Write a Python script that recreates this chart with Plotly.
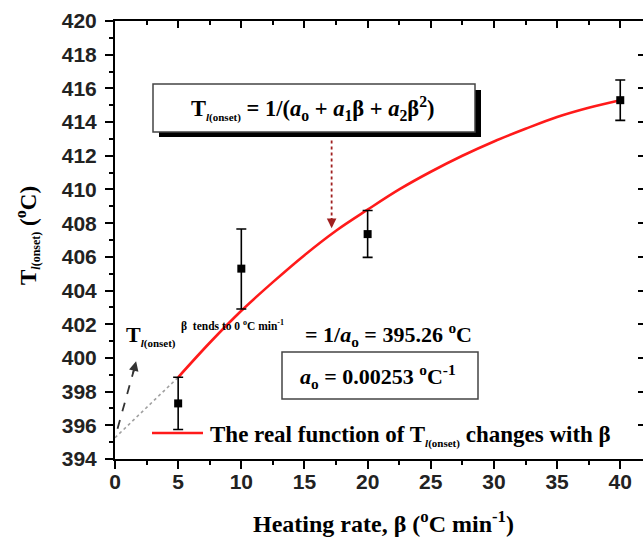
import plotly.graph_objects as go

# ---- data ----
rate = [5, 10, 20, 40]
t_onset = [397.3, 405.3, 407.35, 415.3]
err_plus = [1.55, 2.35, 1.4, 1.2]
err_minus = [1.55, 2.4, 1.38, 1.2]

curve_rate = [5, 7.5, 10, 12.5, 15, 17.5, 20, 22.5, 25, 27.5, 30, 32.5, 35, 37.5, 40]
curve_t = [398.85, 400.9, 402.8, 404.5, 406.1, 407.55, 408.8, 410.0, 411.05, 412.0, 412.85, 413.6, 414.3, 414.85, 415.3]

extrap_rate = [0, 5]
extrap_t = [395.26, 398.85]

x_ticks = [0, 5, 10, 15, 20, 25, 30, 35, 40]
y_ticks = list(range(394, 421, 2))

W, H = 643, 541
L, R, T, B = 115, 643, 21, 459
XR = [0, 41.8]
YR = [394, 420]

def px(xp):
    return (xp - L) / (R - L)

def py(yp):
    return (B - yp) / (B - T)

SERIF = "Liberation Serif"
SANS = "Liberation Sans"

def sub(s, size):
    return "<sub><span style='font-size:%dpx'>%s</span></sub>" % (size, s)

TL = "T" + sub("<i>l</i>(onset)", 11)

fig = go.Figure()

fig.add_trace(go.Scatter(x=extrap_rate, y=extrap_t, mode="lines",
                         line=dict(color="#a0a0a0", width=1.6, dash="dot"),
                         showlegend=False, hoverinfo="skip"))
fig.add_trace(go.Scatter(x=curve_rate, y=curve_t, mode="lines",
                         line=dict(color="#ff1a1a", width=2.6, shape="spline"),
                         showlegend=False))
fig.add_trace(go.Scatter(x=rate, y=t_onset, mode="markers",
                         marker=dict(symbol="square", size=8, color="black"),
                         error_y=dict(type="data", array=err_plus, arrayminus=err_minus,
                                      color="black", thickness=1.6, width=5),
                         showlegend=False))

shapes = []
shapes.append(dict(type="rect", xref="paper", yref="paper",
                   x0=px(159), x1=px(481), y0=py(137), y1=py(90),
                   fillcolor="black", line=dict(width=0)))
shapes.append(dict(type="rect", xref="paper", yref="paper",
                   x0=px(153), x1=px(475), y0=py(132), y1=py(84),
                   fillcolor="white", line=dict(color="#444", width=1.5)))
shapes.append(dict(type="rect", xref="paper", yref="paper",
                   x0=px(282), x1=px(478), y0=py(399), y1=py(352),
                   fillcolor="white", line=dict(color="#444", width=1.5)))
shapes.append(dict(type="line", xref="paper", yref="paper",
                   x0=px(152), x1=px(203), y0=py(433), y1=py(433),
                   line=dict(color="#ff1a1a", width=2.6)))
shapes.append(dict(type="line", xref="x", yref="y", x0=0.2, y0=395.8, x1=1.5, y1=399.3,
                   line=dict(color="#333", width=1.8, dash="dash")))
shapes.append(dict(type="line", xref="x", yref="y", x0=17.15, y0=412.9, x1=17.15, y1=408.2,
                   line=dict(color="#a02020", width=1.8, dash="dot")))

def txt(xp, yp, text, size, xanchor="center", angle=0):
    return dict(xref="paper", yref="paper", x=px(xp), y=py(yp), showarrow=False,
                xanchor=xanchor, yanchor="middle", textangle=angle, text=text,
                font=dict(family=SERIF, size=size, color="black"))

ann = []
ann.append(txt(313, 108, "<b>" + TL + " = 1/(<i>a</i><sub>o</sub> + <i>a</i><sub>1</sub>β + <i>a</i><sub>2</sub>β<sup>2</sup>)</b>", 22.5))
ann.append(txt(378, 376, "<b><i>a</i><sub>o</sub> = 0.00253 <sup>o</sup>C<sup>-1</sup></b>", 22))
ann.append(txt(303, 334, "<b>= 1/<i>a</i><sub>o</sub> = 395.26 <sup>o</sup>C</b>", 22, "left"))
ann.append(txt(124, 336, "<b>" + TL + "</b>", 22, "left"))
ann.append(txt(179, 325, "<b>β  tends to 0 <sup>o</sup>C min<sup>-1</sup></b>", 11.5, "left"))
ann.append(txt(208, 436, "<b>The real function of " + TL + " changes with β</b>", 23, "left"))
ann.append(dict(x=1.67, y=399.8, ax=1.4, ay=399.0, xref="x", yref="y", axref="x", ayref="y",
                showarrow=True, arrowhead=2, arrowsize=1.2, arrowwidth=1.6, arrowcolor="#333", text=""))
ann.append(dict(x=17.15, y=407.7, ax=17.15, ay=408.4, xref="x", yref="y", axref="x", ayref="y",
                showarrow=True, arrowhead=2, arrowsize=1.2, arrowwidth=1.6, arrowcolor="#a02020", text=""))
ann.append(txt(383, 522, "<b>Heating rate, β (<sup>o</sup>C min<sup>-1</sup>)</b>", 24))
ann.append(txt(27, 236, "<b>" + "T" + sub("<i>l</i>(onset)", 12) + " (<sup>o</sup>C)</b>", 23, "center", -90))

tickfont = dict(family=SANS, size=21, color="#222", weight="bold")
fig.update_layout(
    width=W, height=H,
    margin=dict(l=L, r=W - R, t=T, b=H - B),
    plot_bgcolor="white", paper_bgcolor="white",
    shapes=shapes, annotations=ann,
    xaxis=dict(range=XR, tickvals=x_ticks, ticktext=[str(v) for v in x_ticks],
               ticks="outside", ticklen=8, tickwidth=2, tickcolor="black",
               showline=True, linewidth=2, linecolor="black", showgrid=False, zeroline=False,
               minor=dict(dtick=2.5, ticks="outside", ticklen=4, tickwidth=1.5, tickcolor="black"),
               tickfont=tickfont, ticklabelstandoff=-5),
    yaxis=dict(range=YR, tickvals=y_ticks, ticktext=[str(v) for v in y_ticks],
               ticks="outside", ticklen=8, tickwidth=2, tickcolor="black",
               showline=True, linewidth=2, linecolor="black", showgrid=False, zeroline=False,
               minor=dict(dtick=1, ticks="outside", ticklen=4, tickwidth=1.5, tickcolor="black"),
               tickfont=tickfont, ticklabelstandoff=4),
    xaxis2=dict(range=XR, overlaying="x", side="top", tickvals=x_ticks, showticklabels=False,
                ticks="inside", ticklen=7, tickwidth=2, tickcolor="black",
                showline=True, linewidth=2, linecolor="black", showgrid=False, zeroline=False,
                minor=dict(dtick=2.5, ticks="inside", ticklen=4, tickwidth=1.5, tickcolor="black")),
    yaxis2=dict(range=YR, overlaying="y", side="right", tickvals=y_ticks, showticklabels=False,
                ticks="inside", ticklen=5, tickwidth=2, tickcolor="black",
                showline=False, showgrid=False, zeroline=False),
)
fig.add_trace(go.Scatter(x=[None], y=[None], xaxis="x2", yaxis="y2", showlegend=False, hoverinfo="skip"))

fig.write_html("out.html")
